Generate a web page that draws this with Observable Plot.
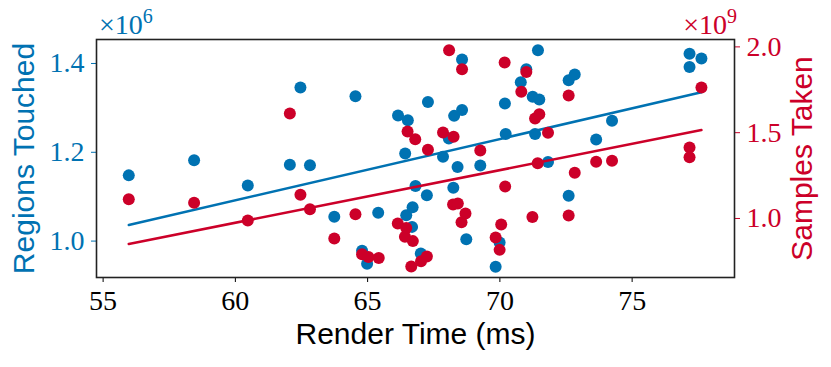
<!DOCTYPE html>
<html>
<head>
<meta charset="utf-8">
<script src="https://cdn.jsdelivr.net/npm/d3@7"></script>
<script src="https://cdn.jsdelivr.net/npm/@observablehq/plot@0.6"></script>
<style>
  html, body { margin: 0; padding: 0; background: #fff; }
</style>
</head>
<body>
<div id="chart"></div>
<script>
// ---- data ----
// Regions Touched (x10^6) vs Render Time (ms)
const regionsTime = [55.97, 58.44, 60.47, 62.06, 62.46, 62.82, 63.74, 64.54, 64.79, 64.98,
  65.40, 66.15, 66.42, 66.46, 66.52, 66.68, 66.70, 66.81, 67.01, 67.24,
  67.28, 67.85, 68.07, 68.24, 68.27, 68.40, 68.57, 68.57, 68.73, 69.26,
  69.84, 69.99, 70.19, 70.22, 70.79, 71.00, 71.24, 71.33, 71.44, 71.49,
  71.82, 72.60, 72.60, 72.83, 73.64, 74.24, 77.17, 77.17, 77.62];
const regionsTouched = [1.148, 1.182, 1.125, 1.172, 1.346, 1.171, 1.055, 1.326, 0.978, 0.949,
  1.064, 1.283, 1.197, 1.058, 1.272, 1.032, 1.076, 1.124, 0.972, 1.103,
  1.313, 1.190, 1.231, 1.120, 1.282, 1.167, 1.409, 1.295, 1.004, 1.170,
  0.942, 0.997, 1.310, 1.241, 1.358, 1.387, 1.325, 1.241, 1.430, 1.319,
  1.178, 1.362, 1.102, 1.375, 1.229, 1.271, 1.422, 1.392, 1.411];

// Samples Taken (x10^9) vs Render Time (ms)
const samplesTime = [55.97, 58.44, 60.47, 62.06, 62.46, 62.82, 63.74, 64.54, 64.79, 65.03,
  65.42, 66.14, 66.41, 66.46, 66.51, 66.65, 66.71, 66.80, 67.02, 67.24,
  67.28, 67.85, 68.08, 68.23, 68.25, 68.41, 68.55, 68.57, 68.70, 69.26,
  69.84, 69.99, 70.05, 70.18, 70.20, 70.81, 71.00, 71.23, 71.33, 71.43,
  71.49, 71.82, 72.60, 72.60, 72.83, 73.64, 74.24, 77.17, 77.17, 77.62];
const samplesTaken = [1.112, 1.091, 0.988, 1.612, 1.138, 1.054, 0.883, 1.025, 0.792, 0.776,
  0.770, 0.971, 0.893, 0.945, 1.507, 0.720, 0.868, 1.462, 0.751, 0.779,
  1.400, 1.501, 1.981, 1.082, 1.476, 1.087, 0.978, 1.870, 1.029, 1.396,
  0.889, 0.817, 0.965, 1.909, 1.186, 1.738, 1.853, 1.009, 1.583, 1.322,
  1.608, 1.499, 1.717, 1.017, 1.266, 1.330, 1.336, 1.414, 1.357, 1.763];

const xTicks = [55, 60, 65, 70, 75];
const leftTicks = [1.0, 1.2, 1.4];
const rightTicks = [1.0, 1.5, 2.0];

// ---- styling ----
const blue = "#0072b2";
const red = "#cc0029";
const serif = "'Liberation Serif', 'DejaVu Serif', serif";
const sans = "'Liberation Sans', Arial, sans-serif";

const xDomain = [54.75, 78.87];
const leftDomain = [0.918, 1.454];
const rightDomain = [0.656, 2.043];
const toLeft = g => leftDomain[0] + (g - rightDomain[0]) * (leftDomain[1] - leftDomain[0]) / (rightDomain[1] - rightDomain[0]);
const fromLeft = v => rightDomain[0] + (v - leftDomain[0]) * (rightDomain[1] - rightDomain[0]) / (leftDomain[1] - leftDomain[0]);

const blueData = regionsTime.map((t, i) => ({t, v: regionsTouched[i]}));
const redData = samplesTime.map((t, i) => ({t, v: toLeft(samplesTaken[i])}));

const W = 831, H = 367;
const mL = 96, mR = 97, mT = 39, mB = 90;

const chart = Plot.plot({
  width: W,
  height: H,
  marginLeft: mL,
  marginRight: mR,
  marginTop: mT,
  marginBottom: mB,
  x: {domain: xDomain},
  y: {domain: leftDomain},
  style: {background: "white", overflow: "visible"},
  marks: [
    Plot.dot(blueData, {x: "t", y: "v", r: 6, fill: blue, stroke: "none"}),
    Plot.linearRegressionY(blueData, {x: "t", y: "v", stroke: blue, strokeWidth: 2.5, ci: 0}),
    Plot.dot(redData, {x: "t", y: "v", r: 6, fill: red, stroke: "none"}),
    Plot.linearRegressionY(redData, {x: "t", y: "v", stroke: red, strokeWidth: 2.5, ci: 0}),
    Plot.axisX(xTicks, {anchor: "bottom", tickSize: 5, tickPadding: 8, fontSize: 28, fontFamily: serif, fill: "#000", stroke: "#000", label: null, tickFormat: d => String(d)}),
    Plot.axisY(leftTicks, {anchor: "left", tickSize: 5, tickPadding: 7, fontSize: 28, fontFamily: serif, color: blue, label: null, tickFormat: d => d.toFixed(1)}),
    Plot.axisY(rightTicks.map(toLeft), {anchor: "right", tickSize: 5, tickPadding: 7, fontSize: 28, fontFamily: serif, color: red, label: null, tickFormat: d => fromLeft(d).toFixed(1)}),
    Plot.frame({stroke: "#222", strokeWidth: 1.6}),
    Plot.text(["Regions Touched"], {frameAnchor: "left", dx: -72, rotate: -90, textAnchor: "middle", lineAnchor: "middle", fontSize: 30, fontFamily: sans, fill: blue}),
    Plot.text(["Samples Taken"], {frameAnchor: "right", dx: 68, rotate: -90, textAnchor: "middle", lineAnchor: "middle", fontSize: 30, fontFamily: sans, fill: red}),
    Plot.text(["Render Time (ms)"], {frameAnchor: "bottom", dy: 57, textAnchor: "middle", lineAnchor: "middle", fontSize: 30, fontFamily: sans, fill: "#000"})
  ]
});

document.getElementById("chart").appendChild(chart);

// exponent annotations above the axes
const svg = d3.select(chart);
function addExponent(x, anchor, power, color) {
  const t = svg.append("text")
    .attr("x", x).attr("y", 34)
    .attr("text-anchor", anchor)
    .attr("font-family", serif)
    .attr("font-size", 28)
    .attr("fill", color);
  t.append("tspan").text("×10");
  t.append("tspan").attr("font-size", 20).attr("dy", -11).text(power);
}
addExponent(mL + 3, "start", "6", blue);
addExponent(W - mR + 3, "end", "9", red);
</script>
</body>
</html>
